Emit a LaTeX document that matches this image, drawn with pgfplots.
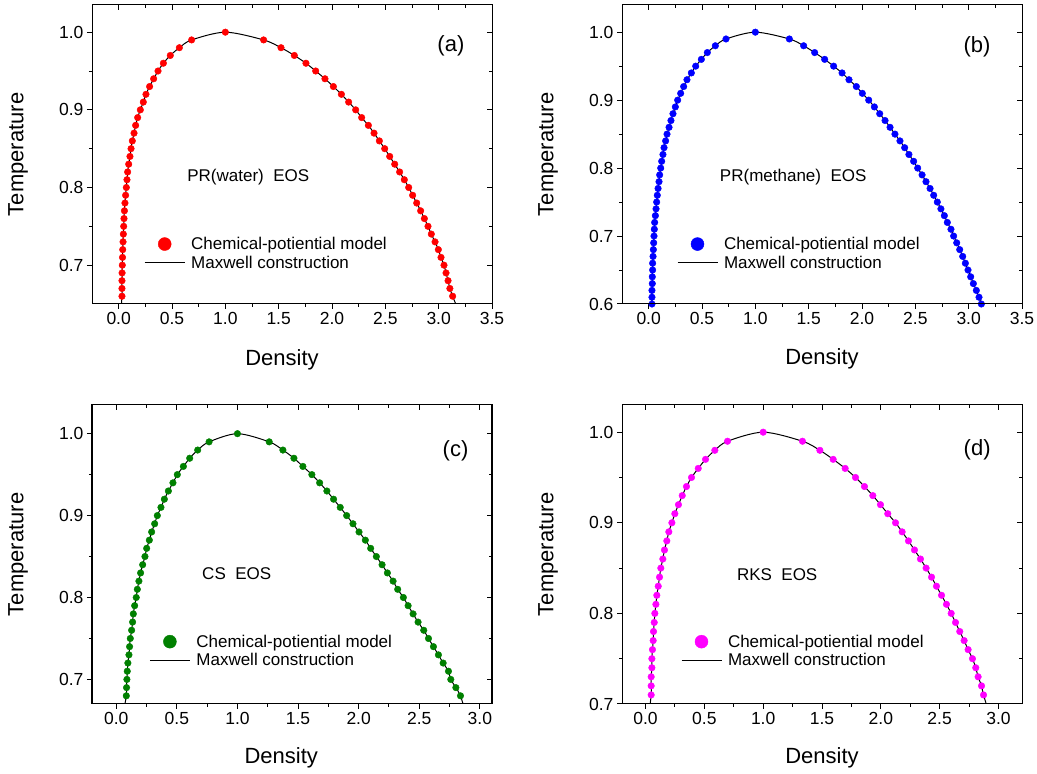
\documentclass[border=0pt]{standalone}
\usepackage{pgfplots}
\pgfplotsset{compat=1.18}
\usepackage{pgfplotstable}
\usepackage{fontspec}
\setmainfont{Liberation Sans}

\definecolor{cgreen}{RGB}{0,128,0}
\definecolor{cred}{RGB}{255,0,0}
\definecolor{cblue}{RGB}{0,0,255}
\definecolor{cmag}{RGB}{255,0,255}

% columns: rho T  (left branch up to critical point, then right branch)
\pgfplotstableread{
rho T
0.020 0.640
0.031 0.66
0.031 0.67
0.031 0.68
0.032 0.69
0.034 0.70
0.036 0.71
0.038 0.72
0.041 0.73
0.044 0.74
0.047 0.75
0.050 0.76
0.054 0.77
0.059 0.78
0.065 0.79
0.072 0.80
0.078 0.81
0.084 0.82
0.094 0.83
0.106 0.84
0.116 0.85
0.128 0.86
0.144 0.87
0.159 0.88
0.178 0.89
0.203 0.90
0.231 0.91
0.256 0.92
0.290 0.93
0.328 0.94
0.369 0.95
0.419 0.96
0.484 0.97
0.569 0.98
0.684 0.99
1.000 1.00
1.359 0.99
1.522 0.98
1.647 0.97
1.756 0.96
1.847 0.95
1.934 0.94
2.013 0.93
2.088 0.92
2.156 0.91
2.222 0.90
2.278 0.89
2.341 0.88
2.394 0.87
2.444 0.86
2.494 0.85
2.541 0.84
2.588 0.83
2.634 0.82
2.678 0.81
2.719 0.80
2.756 0.79
2.794 0.78
2.831 0.77
2.866 0.76
2.900 0.75
2.931 0.74
2.966 0.73
2.997 0.72
3.022 0.71
3.050 0.70
3.069 0.69
3.088 0.68
3.105 0.67
3.131 0.66
3.190 0.640
}\dataA

\pgfplotstableread{
rho T
0.028 0.590
0.031 0.60
0.031 0.61
0.031 0.62
0.034 0.63
0.034 0.64
0.037 0.65
0.037 0.66
0.041 0.67
0.044 0.68
0.047 0.69
0.050 0.70
0.053 0.71
0.056 0.72
0.063 0.73
0.069 0.74
0.075 0.75
0.081 0.76
0.088 0.77
0.097 0.78
0.103 0.79
0.113 0.80
0.122 0.81
0.134 0.82
0.144 0.83
0.159 0.84
0.172 0.85
0.191 0.86
0.209 0.87
0.228 0.88
0.250 0.89
0.272 0.90
0.300 0.91
0.328 0.92
0.359 0.93
0.400 0.94
0.441 0.95
0.494 0.96
0.550 0.97
0.625 0.98
0.725 0.99
1.000 1.00
1.319 0.99
1.453 0.98
1.556 0.97
1.650 0.96
1.734 0.95
1.813 0.94
1.878 0.93
1.947 0.92
2.003 0.91
2.063 0.90
2.116 0.89
2.166 0.88
2.216 0.87
2.263 0.86
2.309 0.85
2.356 0.84
2.400 0.83
2.440 0.82
2.484 0.81
2.522 0.80
2.563 0.79
2.600 0.78
2.638 0.77
2.672 0.76
2.706 0.75
2.740 0.74
2.772 0.73
2.800 0.72
2.834 0.71
2.859 0.70
2.888 0.69
2.916 0.68
2.944 0.67
2.969 0.66
2.994 0.65
3.019 0.64
3.044 0.63
3.072 0.62
3.097 0.61
3.119 0.60
3.140 0.590
}\dataB

\pgfplotstableread{
rho T
0.060 0.660
0.083 0.68
0.085 0.69
0.088 0.70
0.091 0.71
0.096 0.72
0.105 0.73
0.110 0.74
0.116 0.75
0.127 0.76
0.135 0.77
0.141 0.78
0.152 0.79
0.165 0.80
0.174 0.81
0.187 0.82
0.201 0.83
0.218 0.84
0.237 0.85
0.251 0.86
0.273 0.87
0.292 0.88
0.317 0.89
0.339 0.90
0.369 0.91
0.397 0.92
0.430 0.93
0.468 0.94
0.504 0.95
0.554 0.96
0.606 0.97
0.672 0.98
0.766 0.99
1.000 1.00
1.262 0.99
1.375 0.98
1.466 0.97
1.540 0.96
1.614 0.95
1.678 0.94
1.738 0.93
1.793 0.92
1.848 0.91
1.901 0.90
1.953 0.89
2.003 0.88
2.055 0.87
2.099 0.86
2.146 0.85
2.193 0.84
2.237 0.83
2.284 0.82
2.322 0.81
2.369 0.80
2.408 0.79
2.449 0.78
2.490 0.77
2.537 0.76
2.576 0.75
2.617 0.74
2.658 0.73
2.697 0.72
2.741 0.71
2.760 0.70
2.802 0.69
2.840 0.68
2.880 0.660
}\dataC

\pgfplotstableread{
rho T
0.030 0.690
0.048 0.71
0.048 0.72
0.048 0.73
0.054 0.74
0.054 0.75
0.059 0.76
0.065 0.77
0.068 0.78
0.074 0.79
0.079 0.80
0.088 0.81
0.096 0.82
0.108 0.83
0.119 0.84
0.130 0.85
0.147 0.86
0.161 0.87
0.181 0.88
0.198 0.89
0.224 0.90
0.249 0.91
0.280 0.92
0.312 0.93
0.348 0.94
0.391 0.95
0.448 0.96
0.510 0.97
0.589 0.98
0.697 0.99
1.000 1.00
1.334 0.99
1.482 0.98
1.595 0.97
1.697 0.96
1.785 0.95
1.861 0.94
1.932 0.93
1.997 0.92
2.059 0.91
2.125 0.90
2.181 0.89
2.235 0.88
2.286 0.87
2.337 0.86
2.385 0.85
2.431 0.84
2.473 0.83
2.516 0.82
2.558 0.81
2.598 0.80
2.635 0.79
2.671 0.78
2.708 0.77
2.742 0.76
2.779 0.75
2.807 0.74
2.827 0.73
2.856 0.72
2.873 0.71
2.920 0.690
}\dataD

\pgfplotsset{
  common/.style={
    anchor=south west, scale only axis, width=400pt, height=299pt,
    major tick length=5pt, minor tick length=3pt,
    minor x tick num=1, minor y tick num=1,
    axis line style={line width=1pt},
    tick style={line width=1pt, black},
  },
  panel/.style={
    common,
    tick align=outside, xtick pos=left, ytick pos=left,
    ticklabel style={font=\fontsize{17.5}{20}\selectfont},
    xticklabel style={/pgf/number format/fixed, /pgf/number format/fixed zerofill, /pgf/number format/precision=1, /pgf/number format/assume math mode=true},
    yticklabel style={/pgf/number format/fixed, /pgf/number format/fixed zerofill, /pgf/number format/precision=1, /pgf/number format/assume math mode=true},
    xlabel={Density}, ylabel={Temperature},
    label style={font=\fontsize{22}{24}\selectfont},
    ylabel style={at={(axis description cs:-0.185,0.5)}, anchor=center},
    legend style={draw=none, fill=none, font=\fontsize{17}{19}\selectfont, inner sep=0pt, row sep=1pt, column sep=4pt, legend cell align=left},
  },
  mirror/.style={
    common,
    tick align=inside, xtick pos=right, ytick pos=right,
    xticklabels={}, yticklabels={},
  },
  dots/.style={only marks, mark=*, mark size=3.3pt, color=#1,
    legend image code/.code={\draw[mark=*, mark size=6.5pt, color=#1] plot coordinates {(20pt,0pt)};}},
  maxw/.style={black, line width=1pt, smooth, no marks,
    legend image code/.code={\draw[black, line width=1pt] (0pt,0pt) -- (40pt,0pt);}},
  limA/.style={xmin=-0.25, xmax=3.5, ymin=0.65, ymax=1.035, xtick={0,0.5,...,3.5}, ytick={0.7,0.8,0.9,1.0}},
  limB/.style={xmin=-0.25, xmax=3.5, ymin=0.6, ymax=1.04, xtick={0,0.5,...,3.5}, ytick={0.6,0.7,0.8,0.9,1.0}},
  limC/.style={xmin=-0.2, xmax=3.1, ymin=0.67, ymax=1.035, xtick={0,0.5,...,3.0}, ytick={0.7,0.8,0.9,1.0}},
  limD/.style={xmin=-0.2, xmax=3.2, ymin=0.7, ymax=1.03, xtick={0,0.5,...,3.0}, ytick={0.7,0.8,0.9,1.0}},
}

\begin{document}
\begin{tikzpicture}
\useasboundingbox (0pt,0pt) rectangle (1037pt,774pt);

% (a)
\begin{axis}[panel, limA, at={(92pt,470pt)},
  xlabel style={at={(axis description cs:0.475,-0.187)}, anchor=center},
  legend style={at={(0.13,0.169)}, anchor=west}]
\addplot[dots=cred, restrict y to domain=0.655:1.1] table[x=rho,y=T] {\dataA};
\addlegendentry{Chemical-potiential model}
\addplot[maxw] table[x=rho,y=T] {\dataA};
\addlegendentry{Maxwell construction}
\node[font=\fontsize{17}{19}\selectfont] at (axis cs:1.215,0.813) {PR(water)\ \ EOS};
\node[font=\fontsize{22}{24}\selectfont] at (axis cs:3.115,0.983) {(a)};
\end{axis}
\begin{axis}[mirror, limA, at={(92pt,470pt)}]
\end{axis}

% (b)
\begin{axis}[panel, limB, at={(622pt,470pt)},
  xlabel style={at={(axis description cs:0.5,-0.182)}, anchor=center},
  legend style={at={(0.137,0.169)}, anchor=west}]
\addplot[dots=cblue, restrict y to domain=0.595:1.1] table[x=rho,y=T] {\dataB};
\addlegendentry{Chemical-potiential model}
\addplot[maxw] table[x=rho,y=T] {\dataB};
\addlegendentry{Maxwell construction}
\node[font=\fontsize{17}{19}\selectfont] at (axis cs:1.355,0.787) {PR(methane)\ \ EOS};
\node[font=\fontsize{22}{24}\selectfont] at (axis cs:3.078,0.978) {(b)};
\end{axis}
\begin{axis}[mirror, limB, at={(622pt,470pt)}]
\end{axis}

% (c)
\begin{axis}[panel, limC, at={(92pt,70pt)},
  xlabel style={at={(axis description cs:0.473,-0.18)}, anchor=center},
  legend style={at={(0.143,0.177)}, anchor=west}]
\addplot[dots=cgreen, restrict y to domain=0.675:1.1] table[x=rho,y=T] {\dataC};
\addlegendentry{Chemical-potiential model}
\addplot[maxw] table[x=rho,y=T] {\dataC};
\addlegendentry{Maxwell construction}
\node[font=\fontsize{17}{19}\selectfont] at (axis cs:0.994,0.829) {CS\ \ EOS};
\node[font=\fontsize{22}{24}\selectfont] at (axis cs:2.799,0.9785) {(c)};
\end{axis}
\begin{axis}[mirror, limC, at={(92pt,70pt)}]
\end{axis}

% (d)
\begin{axis}[panel, limD, at={(622pt,70pt)},
  xlabel style={at={(axis description cs:0.5,-0.18)}, anchor=center},
  legend style={at={(0.147,0.177)}, anchor=west}]
\addplot[dots=cmag, restrict y to domain=0.705:1.1] table[x=rho,y=T] {\dataD};
\addlegendentry{Chemical-potiential model}
\addplot[maxw] table[x=rho,y=T] {\dataD};
\addlegendentry{Maxwell construction}
\node[font=\fontsize{17}{19}\selectfont] at (axis cs:1.119,0.843) {RKS\ \ EOS};
\node[font=\fontsize{22}{24}\selectfont] at (axis cs:2.819,0.980) {(d)};
\end{axis}
\begin{axis}[mirror, limD, at={(622pt,70pt)}]
\end{axis}

\end{tikzpicture}
\end{document}
